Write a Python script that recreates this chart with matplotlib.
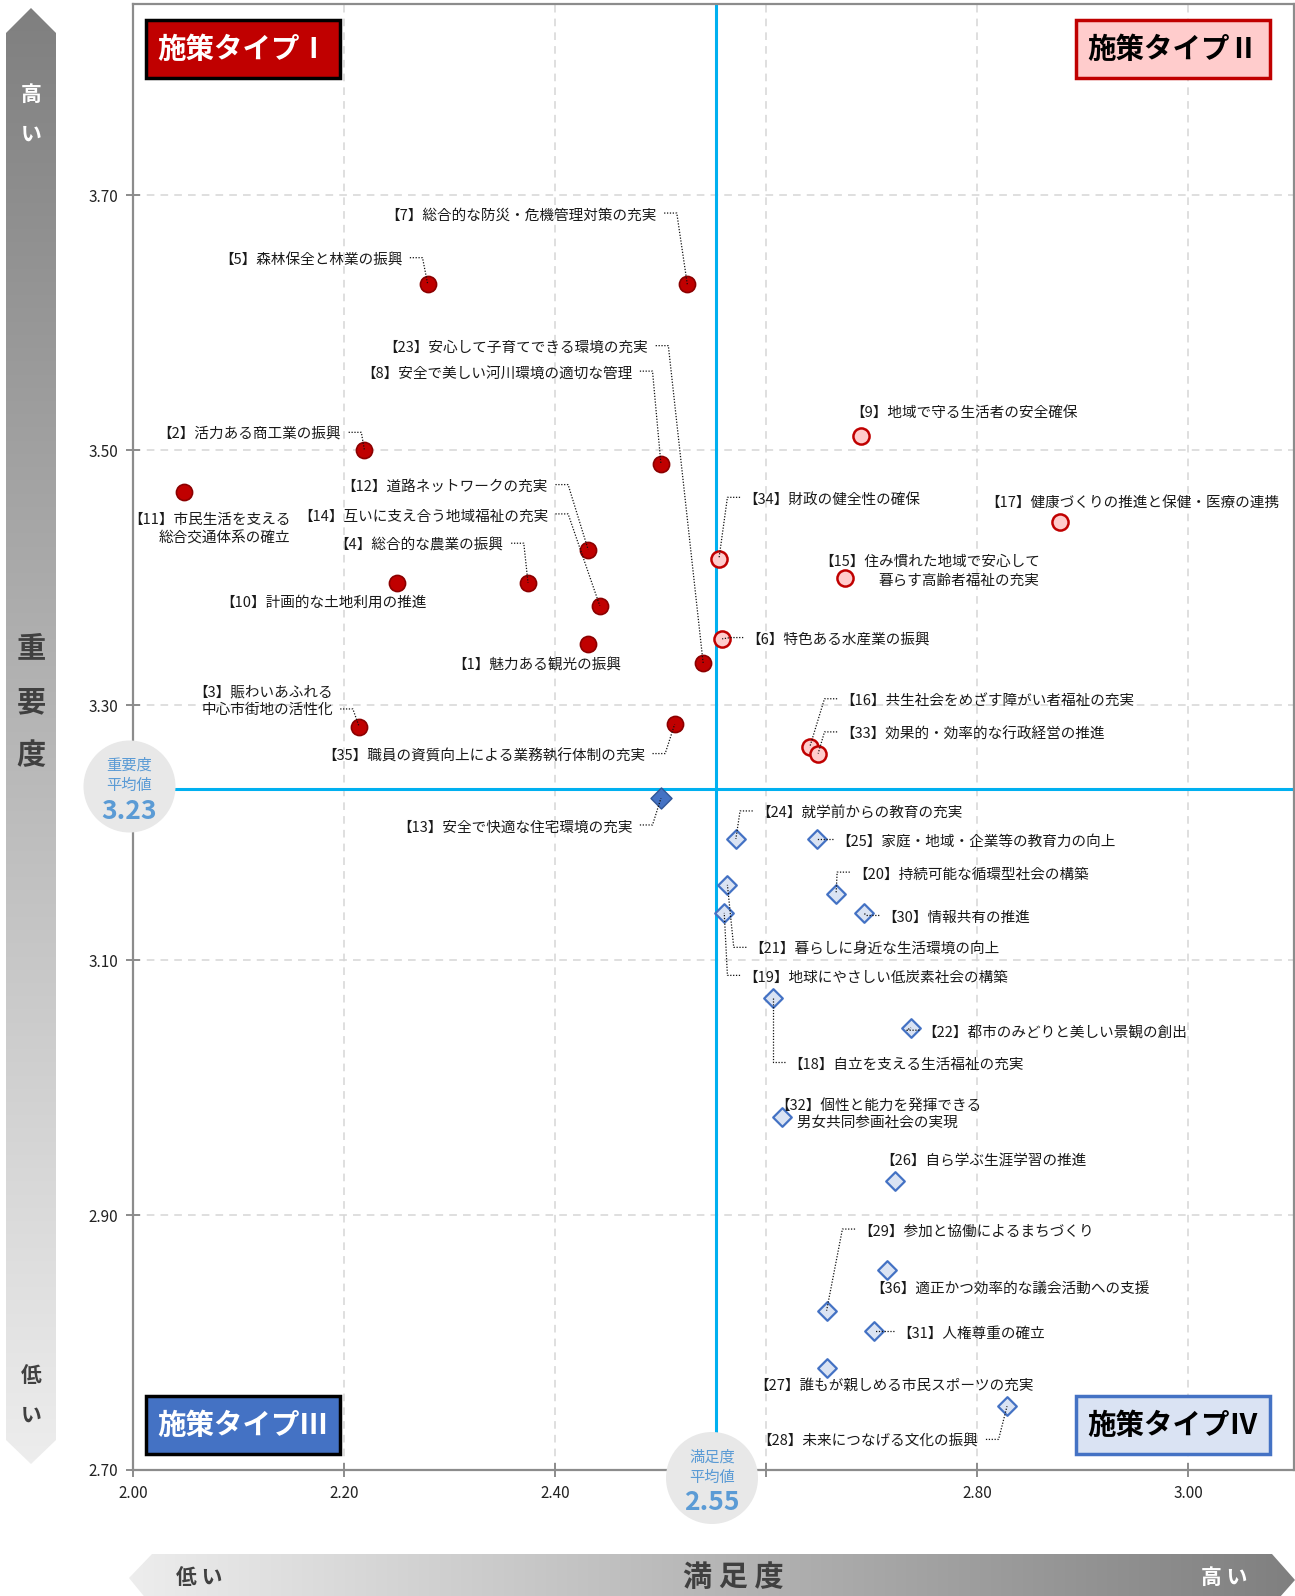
import numpy as np
import matplotlib
matplotlib.use('Agg')
import matplotlib.pyplot as plt
from matplotlib.patches import Polygon, Circle, Rectangle

plt.rcParams['font.family'] = ['Noto Sans CJK JP', 'DejaVu Sans']

# 施策番号・名称・満足度・重要度
ids = list(range(1, 37))
names = [
    '魅力ある観光の振興', '活力ある商工業の振興', '賑わいあふれる\n中心市街地の活性化',
    '総合的な農業の振興', '森林保全と林業の振興', '特色ある水産業の振興',
    '総合的な防災・危機管理対策の充実', '安全で美しい河川環境の適切な管理',
    '地域で守る生活者の安全確保', '計画的な土地利用の推進',
    '市民生活を支える\n総合交通体系の確立', '道路ネットワークの充実',
    '安全で快適な住宅環境の充実', '互いに支え合う地域福祉の充実',
    '住み慣れた地域で安心して\n暮らす高齢者福祉の充実', '共生社会をめざす障がい者福祉の充実',
    '健康づくりの推進と保健・医療の連携', '自立を支える生活福祉の充実',
    '地球にやさしい低炭素社会の構築', '持続可能な循環型社会の構築',
    '暮らしに身近な生活環境の向上', '都市のみどりと美しい景観の創出',
    '安心して子育てできる環境の充実', '就学前からの教育の充実',
    '家庭・地域・企業等の教育力の向上', '自ら学ぶ生涯学習の推進',
    '誰もが親しめる市民スポーツの充実', '未来につなげる文化の振興',
    '参加と協働によるまちづくり', '情報共有の推進', '人権尊重の確立',
    '個性と能力を発揮できる\n\u3000\u2002男女共同参画社会の実現', '効果的・効率的な行政経営の推進',
    '財政の健全性の確保', '職員の資質向上による業務執行体制の充実',
    '適正かつ効率的な議会活動への支援',
]
satisfaction = [2.431, 2.219, 2.214, 2.374, 2.279, 2.558, 2.525, 2.500, 2.690, 2.250,
                2.048, 2.431, 2.500, 2.442, 2.674, 2.641, 2.878, 2.606, 2.560, 2.666,
                2.563, 2.737, 2.540, 2.571, 2.648, 2.722, 2.657, 2.828, 2.657, 2.692,
                2.702, 2.615, 2.649, 2.555, 2.513, 2.714]
importance = [3.348, 3.500, 3.283, 3.396, 3.630, 3.352, 3.630, 3.489, 3.511, 3.396,
              3.467, 3.422, 3.227, 3.378, 3.400, 3.267, 3.444, 3.070, 3.137, 3.152,
              3.159, 3.047, 3.333, 3.195, 3.195, 2.927, 2.780, 2.750, 2.825, 3.137,
              2.809, 2.977, 3.262, 3.415, 3.285, 2.857]

mean_sat = 2.552
mean_imp = 3.234

x_ticks = [2.00, 2.20, 2.40, 2.60, 2.80, 3.00]
y_ticks = [2.70, 2.90, 3.10, 3.30, 3.50, 3.70]

# label anchor (x, y, ha, leader, [leader y])
label_at = {
    1: (2.302, 3.333, 'left', False),
    2: (2.197, 3.514, 'right', True),
    3: (2.189, 3.305, 'right', True, 3.297),
    4: (2.351, 3.427, 'right', True),
    5: (2.255, 3.651, 'right', True),
    6: (2.581, 3.353, 'left', True),
    7: (2.496, 3.686, 'right', True),
    8: (2.473, 3.562, 'right', True),
    9: (2.679, 3.531, 'left', False),
    10: (2.082, 3.382, 'left', False),
    11: (2.149, 3.440, 'right', False),
    12: (2.393, 3.473, 'right', True),
    13: (2.473, 3.206, 'right', True),
    14: (2.393, 3.450, 'right', True),
    15: (2.859, 3.407, 'right', False),
    16: (2.670, 3.305, 'left', True),
    17: (2.807, 3.461, 'left', False),
    18: (2.621, 3.020, 'left', True),
    19: (2.578, 3.088, 'left', True),
    20: (2.682, 3.169, 'left', True),
    21: (2.584, 3.110, 'left', True),
    22: (2.748, 3.045, 'left', True),
    23: (2.488, 3.582, 'right', True),
    24: (2.590, 3.217, 'left', True),
    25: (2.666, 3.195, 'left', True),
    26: (2.708, 2.944, 'left', False),
    27: (2.588, 2.768, 'left', False),
    28: (2.801, 2.724, 'right', True),
    29: (2.687, 2.889, 'left', True),
    30: (2.710, 3.135, 'left', True),
    31: (2.724, 2.809, 'left', True),
    32: (2.608, 2.981, 'left', False),
    33: (2.670, 3.279, 'left', True),
    34: (2.578, 3.463, 'left', True),
    35: (2.485, 3.262, 'right', True),
    36: (2.698, 2.844, 'left', False),
}

W, H = 1295, 1596
fig = plt.figure(figsize=(W / 100, H / 100), dpi=100)
ax = fig.add_axes([133.4 / W, 1 - 1470 / H, (1294 - 133.4) / W, (1470 - 4) / H])
ax.set_xlim(2.0, 3.10)
ax.set_ylim(2.70, 3.85)

for s in ax.spines.values():
    s.set_color('#8c8c8c')
    s.set_linewidth(1.6)
ax.set_xticks(x_ticks)
ax.set_xticklabels(['' if abs(v - 2.6) < 1e-6 else f'{v:.2f}' for v in x_ticks])
ax.set_yticks(y_ticks)
ax.set_yticklabels([f'{v:.2f}' for v in y_ticks])
ax.tick_params(direction='inout', length=10, width=1.4, color='#8c8c8c',
               labelsize=11, labelcolor='#222222', pad=6)
ax.grid(True, linestyle=(0, (5, 4)), color='#d6d6d6', linewidth=1.1)
ax.set_axisbelow(True)

ax.axvline(mean_sat, color='#00b0f0', lw=2.2, zorder=2)
ax.axhline(mean_imp, color='#00b0f0', lw=2.2, zorder=2)

sat = np.array(satisfaction)
imp = np.array(importance)
q1 = (sat < mean_sat) & (imp >= mean_imp)
q2 = (sat >= mean_sat) & (imp >= mean_imp)
q3 = (sat < mean_sat) & (imp < mean_imp)
q4 = (sat >= mean_sat) & (imp < mean_imp)
ax.scatter(sat[q1], imp[q1], s=135, marker='o', facecolor='#c00000', edgecolor='#8b0000', lw=1.2, zorder=3)
ax.scatter(sat[q2], imp[q2], s=135, marker='o', facecolor='#ffcccc', edgecolor='#c00000', lw=1.8, zorder=3)
ax.scatter(sat[q3], imp[q3], s=115, marker='D', facecolor='#4472c4', edgecolor='#2f5597', lw=1.0, zorder=3)
ax.scatter(sat[q4], imp[q4], s=90, marker='D', facecolor='#dae3f3', edgecolor='#4472c4', lw=1.6, zorder=3)

gap_r, gap_l, seg = 0.007, 0.003, 0.012
for i, name, x, y in zip(ids, names, satisfaction, importance):
    spec = label_at[i]
    tx, ty, ha, lead = spec[:4]
    ax.text(tx, ty - 0.002, f'【{i}】{name}', ha=ha, va='center', fontsize=10.5,
            color='#1a1a1a', linespacing=1.35, zorder=5)
    if lead:
        ly = spec[4] if len(spec) > 4 else ty
        if ha == 'right':
            sx, cx = tx + gap_r, tx + gap_r + seg
        else:
            sx, cx = tx - gap_l, tx - gap_l - seg
        ax.plot([sx, cx, x], [ly, ly, y], color='#111111', lw=0.9,
                linestyle=(0, (1, 1.3)), zorder=4)

# overlay in pixel coordinates
ov = fig.add_axes([0, 0, 1, 1], zorder=5)
ov.patch.set_alpha(0)
ov.axis('off')


def gradient(verts, c0, c1, horizontal):
    poly = Polygon(verts, closed=True, facecolor='none', edgecolor='none')
    ov.add_patch(poly)
    xs = [v[0] for v in verts]
    ys = [v[1] for v in verts]
    t = np.linspace(0, 1, 256)[:, None]
    cols = (1 - t) * np.array(c0) + t * np.array(c1)
    img = cols[None, :, :] if horizontal else cols[:, None, :]
    im = ov.imshow(img, extent=(min(xs), max(xs), max(ys), min(ys)),
                   aspect='auto', interpolation='bilinear', zorder=1)
    im.set_clip_path(poly)


dark = (0.50, 0.50, 0.50)
light = (0.93, 0.93, 0.93)
gradient([(31, 8), (56, 33), (56, 1440), (31, 1464), (6, 1440), (6, 33)], dark, light, False)
gradient([(129, 1578), (152, 1554), (1272, 1554), (1295, 1580), (1272, 1606), (152, 1606)],
         light, dark, True)

bold = dict(fontweight='bold', ha='center', va='center')
ov.text(31, 94, '高', color='white', fontsize=15, **bold)
ov.text(31, 134, 'い', color='white', fontsize=15, **bold)
for yy, ch in zip([648, 702, 755], '重要度'):
    ov.text(31, yy, ch, color='#404040', fontsize=21, **bold)
ov.text(31, 1376, '低', color='#404040', fontsize=15, **bold)
ov.text(31, 1415, 'い', color='#404040', fontsize=15, **bold)
ov.text(199, 1577, '低 い', color='#404040', fontsize=15, **bold)
ov.text(733, 1577, '満 足 度', color='#404040', fontsize=21, **bold)
ov.text(1224, 1577, '高 い', color='white', fontsize=15, **bold)

# quadrant labels
boxes = [
    (146, 20, '施策タイプⅠ', '#c00000', '#000000', 'white'),
    (1076, 20, '施策タイプⅡ', '#ffcccc', '#c00000', 'black'),
    (146, 1396, '施策タイプⅢ', '#4472c4', '#000000', 'white'),
    (1076, 1396, '施策タイプⅣ', '#dae3f3', '#4472c4', 'black'),
]
for bx, by, txt, fc, ec, tc in boxes:
    ov.add_patch(Rectangle((bx, by), 194, 58, facecolor=fc, edgecolor=ec, lw=2.5, zorder=3))
    ov.text(bx + 97, by + 30, txt, color=tc, fontsize=20.5, zorder=4, **bold)

# mean circles
for cx, cy, t1, val in [(129.5, 786.5, '重要度', mean_imp), (712, 1478, '満足度', mean_sat)]:
    ov.add_patch(Circle((cx, cy), 46, facecolor='#e8e8e8', edgecolor='none', zorder=3))
    ov.text(cx, cy - 21, t1, color='#5b9bd5', fontsize=11, ha='center', va='center', zorder=4)
    ov.text(cx, cy - 1, '平均値', color='#5b9bd5', fontsize=11, ha='center', va='center', zorder=4)
    ov.text(cx, cy + 25, f'{val:.2f}', color='#5b9bd5', fontsize=19, fontweight='bold',
            ha='center', va='center', zorder=4)

ov.set_xlim(0, W)
ov.set_ylim(H, 0)

fig.savefig('out.png', dpi=100)
